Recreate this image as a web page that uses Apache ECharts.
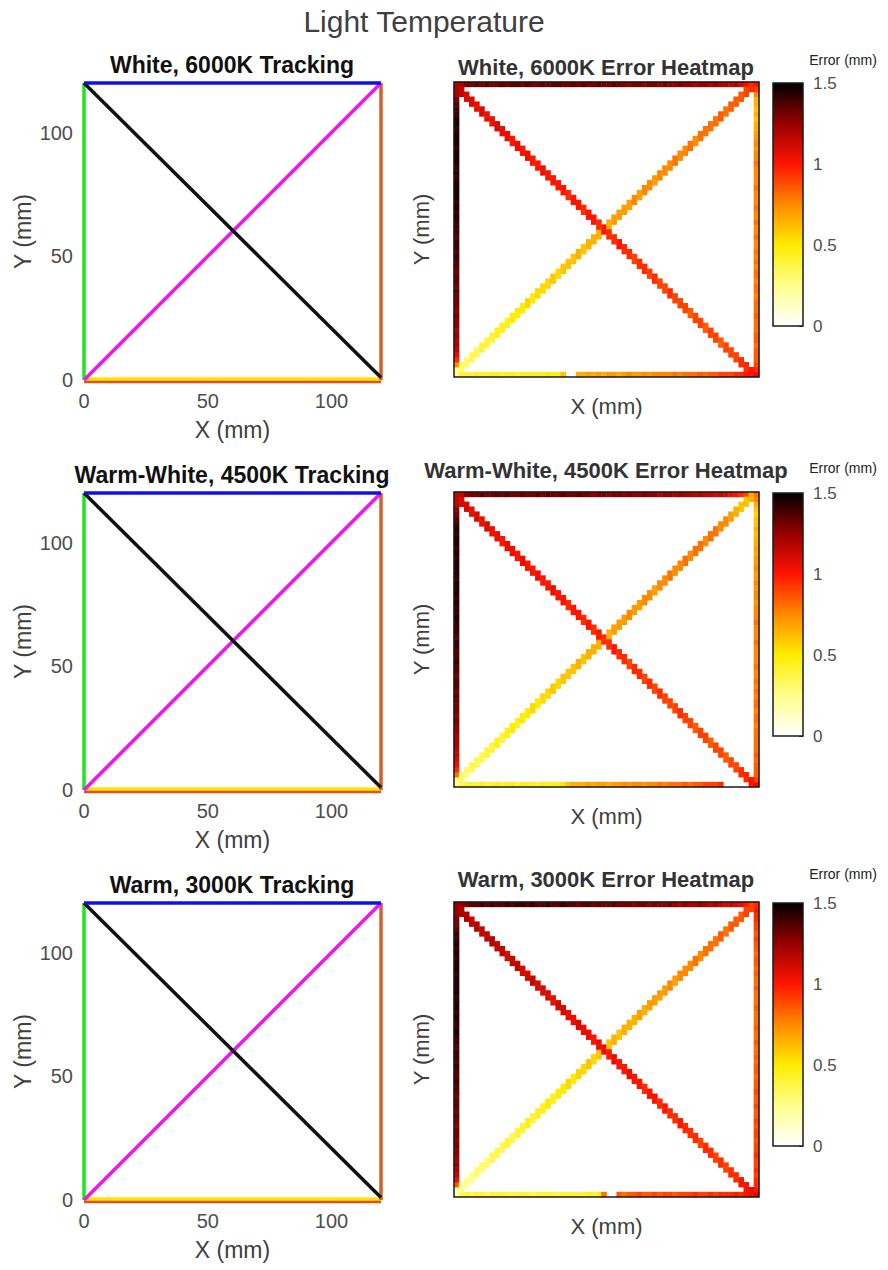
<!DOCTYPE html>
<html><head><meta charset="utf-8">
<script src="https://cdn.jsdelivr.net/npm/echarts@6/dist/echarts.min.js"></script>
<style>html,body{margin:0;padding:0;background:#fff}#c{width:888px;height:1270px}</style>
</head><body><div id="c"></div>
<script>
// ---------------- DATA ----------------
const mainTitle = 'Light Temperature';
const panelNames = ['White, 6000K', 'Warm-White, 4500K', 'Warm, 3000K'];
const trackTicks = [0, 50, 100];
const cbTicks = [0, 0.5, 1, 1.5];
const axisNameX = 'X (mm)';
const axisNameY = 'Y (mm)';
const cbLabel = 'Error (mm)';

// tracked paths [x mm, y mm]
const pathLeft = [[0, 0], [0, 120]];
const pathBottomLow = [[0, -0.6], [120, -0.6]];
const pathBottom = [[0, 0.4], [120, 0.4]];
const pathRight = [[120, 0], [120, 120]];
const pathUp = [[0, 0], [120, 120]];
const pathDown = [[0, 120], [120, 1]];
const pathTop = [[0, 120], [120, 120]];

// heatmap error values (mm), 60 cells (2 mm) along each traced path
const h6000Down = [1.2,1.15,1.1,1.1,1.05,1.1,1.05,1.05,1.1,1.05, 1.05,1.0,1.05,1.0,1.05,1.0,1.0,1.05,1.0,1.0, 1.0,1.0,0.95,1.0,1.0,0.95,1.0,1.0,0.95,1.0, 0.95,0.95,1.0,0.95,0.95,0.9,0.95,0.95,0.9,0.95, 0.9,0.9,0.95,0.9,0.9,0.9,0.85,0.9,0.9,0.85, 0.9,0.9,0.85,0.9,0.9,0.9,0.95,0.95,1.0,1.05];
const h6000Up = [0.25,0.3,0.3,0.35,0.35,0.4,0.4,0.4,0.45,0.45, 0.45,0.5,0.5,0.5,0.55,0.5,0.55,0.55,0.55,0.6, 0.55,0.6,0.6,0.6,0.65,0.6,0.65,0.65,0.65,0.7, 0.65,0.7,0.7,0.7,0.7,0.75,0.7,0.75,0.75,0.7, 0.75,0.75,0.75,0.8,0.75,0.75,0.8,0.75,0.8,0.8, 0.8,0.8,0.85,0.8,0.85,0.85,0.85,0.9,0.95,1.0];
const h6000Bottom = [0.35,0.4,0.4,0.4,0.45,0.4,0.4,0.45,0.45,0.4, 0.45,0.45,0.4,0.45,0.45,0.45,0.45,0.45,0.5,0.45, 0.45,0.6,null,null,0.65,0.65,0.7,0.65,0.7,0.65, 0.7,0.7,0.65,0.7,0.75,0.7,0.7,0.75,0.7,0.75, 0.75,0.75,0.75,0.8,0.75,0.8,0.8,0.8,0.85,0.8, 0.85,0.85,0.9,0.9,0.9,0.95,0.95,1.0,1.05,null];
const h6000Top = [1.1,1.2,1.3,1.3,1.35,1.3,1.35,1.3,1.3,1.35, 1.3,1.35,1.35,1.3,1.35,1.3,1.3,1.35,1.3,1.35, 1.35,1.3,1.3,1.35,1.3,1.35,1.3,1.3,1.35,1.3, 1.3,1.35,1.3,1.3,1.25,1.3,1.3,1.25,1.3,1.3, 1.25,1.3,1.25,1.25,1.3,1.25,1.25,1.2,1.25,1.25, 1.2,1.25,1.2,1.2,1.15,1.2,1.1,1.05,1.0,1.0];
const h6000Left = [0.4,0.5,0.75,0.95,1.05,1.15,1.2,1.2,1.25,1.2, 1.25,1.25,1.3,1.25,1.3,1.3,1.3,1.35,1.3,1.35, 1.35,1.3,1.35,1.35,1.4,1.35,1.4,1.4,1.35,1.4, 1.4,1.4,1.45,1.4,1.45,1.4,1.45,1.45,1.45,1.45, 1.4,1.45,1.4,1.45,1.45,1.45,1.4,1.45,1.45,1.45, 1.4,1.45,1.45,1.4,1.4,1.35,1.3,1.2,1.1,1.05];
const h6000Right = [1.0,0.95,0.9,0.85,0.85,0.85,0.8,0.85,0.85,0.8, 0.8,0.8,0.85,0.8,0.8,0.8,0.75,0.8,0.8,0.75, 0.8,0.8,0.75,0.8,0.75,0.8,0.75,0.75,0.8,0.75, 0.75,0.8,0.75,0.75,0.8,0.75,0.75,0.75,0.8,0.75, 0.75,0.75,0.75,0.8,0.75,0.75,0.7,0.75,0.7,0.7, 0.65,0.65,0.6,0.65,0.6,0.65,0.65,0.75,0.9,1.0];

const h4500Down = [1.15,1.1,1.1,1.05,1.1,1.05,1.1,1.05,1.05,1.0, 1.05,1.05,1.0,1.05,1.0,1.0,1.05,1.0,1.0,1.05, 1.0,1.0,0.95,1.0,1.0,0.95,1.0,0.95,1.0,0.95, 0.95,1.0,0.95,0.95,0.9,0.95,0.95,0.9,0.95,0.9, 0.95,0.9,0.9,0.9,0.95,0.9,0.9,0.85,0.9,0.9, 0.85,0.9,0.9,0.85,0.9,0.9,0.95,0.95,1.0,1.05];
const h4500Up = [0.25,0.3,0.3,0.35,0.35,0.35,0.4,0.4,0.45,0.4, 0.45,0.5,0.45,0.5,0.5,0.55,0.5,0.55,0.55,0.6, 0.55,0.6,0.6,0.6,0.65,0.6,0.65,0.65,0.65,0.7, 0.65,0.7,0.7,0.7,0.75,0.7,0.7,0.75,0.75,0.7, 0.75,0.75,0.8,0.75,0.75,0.8,0.75,0.8,0.8,0.75, 0.8,0.8,0.75,0.75,0.7,0.65,0.6,0.6,0.65,0.8];
const h4500Bottom = [0.35,0.35,0.4,0.4,0.4,0.45,0.4,0.4,0.45,0.4, 0.45,0.45,0.4,0.45,0.45,0.45,0.4,0.45,0.45,0.45, 0.45,0.5,0.6,0.65,0.65,0.65,0.7,0.65,0.7,0.7, 0.65,0.7,0.7,0.75,0.7,0.75,0.75,0.7,0.75,0.75, 0.8,0.75,0.8,0.8,0.8,0.85,0.8,0.85,0.85,0.9, 0.9,0.9,0.95,null,null,null,null,null,null,null];
const h4500Top = [1.05,1.15,1.25,1.3,1.3,1.35,1.3,1.3,1.35,1.3, 1.35,1.3,1.3,1.35,1.3,1.3,1.35,1.3,1.35,1.3, 1.3,1.35,1.3,1.3,1.35,1.3,1.3,1.25,1.3,1.3, 1.25,1.3,1.3,1.25,1.3,1.25,1.25,1.3,1.25,1.25, 1.2,1.25,1.25,1.2,1.25,1.2,1.2,1.15,1.2,1.15, 1.15,1.1,1.15,1.1,1.05,1.0,0.95,0.9,0.85,0.9];
const h4500Left = [0.4,0.55,0.8,0.95,1.05,1.1,1.15,1.15,1.2,1.2, 1.2,1.25,1.25,1.3,1.25,1.3,1.3,1.3,1.35,1.3, 1.35,1.35,1.3,1.35,1.35,1.4,1.35,1.35,1.4,1.4, 1.35,1.4,1.4,1.4,1.45,1.4,1.4,1.45,1.4,1.45, 1.45,1.45,1.4,1.45,1.45,1.45,1.4,1.45,1.4,1.45, 1.45,1.4,1.45,1.4,1.35,1.3,1.25,1.15,1.05,1.0];
const h4500Right = [0.95,0.9,0.85,0.85,0.85,0.8,0.85,0.8,0.8,0.8, 0.8,0.8,0.75,0.8,0.8,0.75,0.8,0.8,0.75,0.8, 0.75,0.8,0.75,0.75,0.8,0.75,0.75,0.75,0.75,0.8, 0.75,0.75,0.75,0.8,0.75,0.75,0.75,0.7,0.75,0.75, 0.7,0.75,0.7,0.7,0.75,0.7,0.7,0.65,0.7,0.65, 0.65,0.6,0.65,0.6,0.6,0.55,0.6,0.65,0.75,0.85];

const h3000Down = [1.25,1.2,1.2,1.15,1.2,1.15,1.15,1.2,1.15,1.15, 1.1,1.15,1.15,1.1,1.1,1.15,1.1,1.1,1.1,1.05, 1.1,1.1,1.05,1.05,1.1,1.05,1.05,1.0,1.05,1.05, 1.0,1.05,1.0,1.0,1.05,1.0,1.0,0.95,1.0,1.0, 0.95,1.0,0.95,0.95,1.0,0.95,0.95,0.95,0.9,0.95, 0.95,0.9,0.95,0.9,0.95,0.95,1.0,1.0,1.05,1.1];
const h3000Up = [0.2,0.2,0.25,0.25,0.3,0.3,0.3,0.35,0.35,0.35, 0.4,0.35,0.4,0.4,0.45,0.4,0.45,0.45,0.5,0.45, 0.5,0.5,0.55,0.5,0.55,0.55,0.6,0.55,0.6,0.6, 0.6,0.65,0.6,0.65,0.65,0.65,0.7,0.65,0.7,0.7, 0.7,0.7,0.75,0.7,0.75,0.75,0.75,0.8,0.75,0.8, 0.8,0.8,0.85,0.8,0.85,0.85,0.85,0.9,0.9,0.95];
const h3000Bottom = [0.35,0.35,0.4,0.35,0.4,0.4,0.35,0.4,0.4,0.4, 0.4,0.35,0.4,0.4,0.4,0.35,0.4,0.4,0.4,0.4, 0.35,0.4,0.4,0.4,0.4,0.4,0.45,0.4,0.45,0.8, null,null,0.85,0.8,0.85,0.85,0.9,0.85,0.85,0.9, 0.85,0.9,0.9,0.85,0.9,0.9,0.9,0.95,0.9,0.9, 0.95,0.9,0.95,0.95,0.95,1.0,0.95,1.0,1.0,1.05];
const h3000Top = [1.15,1.25,1.3,1.35,1.35,1.4,1.35,1.4,1.35,1.35, 1.4,1.35,1.4,1.4,1.35,1.4,1.35,1.35,1.4,1.35, 1.35,1.4,1.35,1.35,1.3,1.35,1.35,1.3,1.35,1.3, 1.3,1.35,1.3,1.3,1.3,1.25,1.3,1.3,1.25,1.3, 1.25,1.25,1.3,1.25,1.2,1.25,1.2,1.2,1.25,1.2, 1.15,1.2,1.15,1.1,1.15,1.1,1.05,1.0,1.0,1.05];
const h3000Left = [0.4,0.6,0.85,1.05,1.15,1.2,1.25,1.2,1.25,1.25, 1.3,1.25,1.3,1.3,1.25,1.3,1.35,1.3,1.35,1.35, 1.3,1.35,1.35,1.4,1.35,1.35,1.4,1.35,1.4,1.4, 1.35,1.4,1.4,1.45,1.4,1.4,1.45,1.4,1.45,1.45, 1.4,1.45,1.45,1.45,1.45,1.4,1.45,1.45,1.4,1.45, 1.4,1.45,1.4,1.4,1.35,1.3,1.3,1.25,1.2,1.15];
const h3000Right = [1.05,1.0,0.95,0.95,0.9,0.95,0.9,0.9,0.95,0.9, 0.9,0.85,0.9,0.9,0.85,0.9,0.85,0.85,0.9,0.85, 0.85,0.9,0.85,0.85,0.8,0.85,0.85,0.8,0.85,0.8, 0.8,0.85,0.8,0.8,0.85,0.8,0.8,0.8,0.85,0.8, 0.8,0.8,0.85,0.8,0.8,0.85,0.8,0.85,0.85,0.8, 0.85,0.85,0.9,0.85,0.9,0.9,0.95,0.95,1.0,1.05];

// ---------------- STYLE / LAYOUT ----------------
const FONT = '"Liberation Sans", Arial, Helvetica, sans-serif';
const CMAP = ['#ffffff', '#ffff8c', '#ffec00', '#ff8a00', '#ff1400', '#980000', '#000000'];
const N = 60;
const cellIdx = Array.from({length: N}, (_, i) => i);
const ROW = 410;
const trackTitleY = [65, 475, 885];
const heatTitleY = [67, 470, 879];
const errLabelY = [60, 468, 874];

const heatSets = [
  [h6000Down, h6000Up, h6000Bottom, h6000Top, h6000Left, h6000Right],
  [h4500Down, h4500Up, h4500Bottom, h4500Top, h4500Left, h4500Right],
  [h3000Down, h3000Up, h3000Bottom, h3000Top, h3000Left, h3000Right]
];

function buildCells(set) {
  const [down, up, bottom, top, left, right] = set;
  const m = new Map();
  const put = (x, y, v) => { if (v == null || y < 0 || y >= N) return; m.set(x + ',' + y, [x, y, v]); };
  bottom.forEach((v, i) => put(i, 0, v));
  top.forEach((v, i) => put(i, N - 1, v));
  left.forEach((v, j) => put(0, j, v));
  right.forEach((v, j) => put(N - 1, j, v));
  up.forEach((v, i) => { put(i, i, v); put(i, i + 1, v); });
  down.forEach((v, i) => { put(i, N - 1 - i, v); put(i, N - 2 - i, v); });
  return Array.from(m.values());
}

const tracks = [
  {data: pathLeft, color: '#1ee61e'},
  {data: pathBottomLow, color: '#e0501a'},
  {data: pathBottom, color: '#ffe600'},
  {data: pathRight, color: '#d2602a'},
  {data: pathUp, color: '#f014f0'},
  {data: pathDown, color: '#111111'},
  {data: pathTop, color: '#1010e6'}
];

const grid = [], xAxis = [], yAxis = [], series = [], graphic = [], heatIdx = [];
const tickFmt = v => (trackTicks.indexOf(v) >= 0 ? String(v) : '');

graphic.push({type: 'text', x: 424, y: 21, style: {text: mainTitle, font: '30px ' + FONT, fill: '#404040', align: 'center', verticalAlign: 'middle'}});

for (let r = 0; r < 3; r++) {
  const off = ROW * r;
  // tracking
  const g0 = grid.length;
  grid.push({left: 84, top: 83 + off, width: 297, height: 297});
  xAxis.push({type: 'value', gridIndex: g0, min: 0, max: 120, interval: 50,
    axisLine: {show: false}, axisTick: {show: false}, splitLine: {show: false},
    axisLabel: {fontSize: 20, color: '#4d4d4d', margin: 11, fontFamily: FONT, formatter: tickFmt},
    name: axisNameX, nameLocation: 'middle', nameGap: 38,
    nameTextStyle: {fontSize: 23, color: '#404040', fontFamily: FONT}});
  yAxis.push({type: 'value', gridIndex: g0, min: 0, max: 120, interval: 50,
    axisLine: {show: false}, axisTick: {show: false}, splitLine: {show: false},
    axisLabel: {fontSize: 20, color: '#4d4d4d', margin: 11, fontFamily: FONT, formatter: tickFmt},
    name: axisNameY, nameLocation: 'middle', nameGap: 50,
    nameTextStyle: {fontSize: 23, color: '#404040', fontFamily: FONT}});
  tracks.forEach(t => series.push({type: 'line', xAxisIndex: g0, yAxisIndex: g0, data: t.data,
    showSymbol: false, clip: false, silent: true, animation: false,
    lineStyle: {color: t.color, width: 3.5}}));

  // heatmap
  const g1 = grid.length;
  grid.push({left: 454, top: 82 + off, width: 305, height: 295, show: true, borderColor: '#1a1a1a', borderWidth: 1.5, z: 5});
  xAxis.push({type: 'category', gridIndex: g1, data: cellIdx,
    axisLine: {show: false}, axisTick: {show: false}, axisLabel: {show: false}, splitLine: {show: false},
    name: axisNameX, nameLocation: 'middle', nameGap: 18,
    nameTextStyle: {fontSize: 22, color: '#404040', fontFamily: FONT}});
  yAxis.push({type: 'category', gridIndex: g1, data: cellIdx,
    axisLine: {show: false}, axisTick: {show: false}, axisLabel: {show: false}, splitLine: {show: false},
    name: axisNameY, nameLocation: 'middle', nameGap: 22,
    nameTextStyle: {fontSize: 22, color: '#404040', fontFamily: FONT}});
  heatIdx.push(series.length);
  series.push({type: 'heatmap', xAxisIndex: g1, yAxisIndex: g1, data: buildCells(heatSets[r]),
    silent: true, animation: false, progressive: 0, itemStyle: {borderWidth: 0}});

  // colorbar
  const g2 = grid.length;
  grid.push({left: 773, top: 83 + off, width: 30, height: 243, show: true, borderColor: '#1a1a1a', borderWidth: 1.5, z: 5});
  xAxis.push({type: 'category', gridIndex: g2, data: ['cb'], show: false});
  yAxis.push({type: 'value', gridIndex: g2, position: 'right', min: cbTicks[0], max: cbTicks[cbTicks.length - 1], interval: 0.5,
    axisLine: {show: false}, splitLine: {show: false},
    axisTick: {show: true, inside: true, length: 4, lineStyle: {color: '#333'}},
    axisLabel: {fontSize: 17, color: '#4d4d4d', margin: 10, fontFamily: FONT}});
  series.push({type: 'bar', xAxisIndex: g2, yAxisIndex: g2, data: [cbTicks[cbTicks.length - 1]],
    barWidth: '100%', silent: true, animation: false,
    itemStyle: {color: {type: 'linear', x: 0, y: 1, x2: 0, y2: 0,
      colorStops: CMAP.map((c, i) => ({offset: i / (CMAP.length - 1), color: c}))}}});

  graphic.push({type: 'text', x: 232, y: trackTitleY[r], style: {text: panelNames[r] + ' Tracking', font: 'bold 23px ' + FONT, fill: '#111', align: 'center', verticalAlign: 'middle'}});
  graphic.push({type: 'text', x: 606, y: heatTitleY[r], style: {text: panelNames[r] + ' Error Heatmap', font: 'bold 22px ' + FONT, fill: '#333', align: 'center', verticalAlign: 'middle'}});
  graphic.push({type: 'text', x: 843, y: errLabelY[r], style: {text: cbLabel, font: '14px ' + FONT, fill: '#222', align: 'center', verticalAlign: 'middle'}});
}

const chart = echarts.init(document.getElementById('c'), null, {renderer: 'svg'});
chart.setOption({
  animation: false,
  backgroundColor: '#ffffff',
  grid, xAxis, yAxis, series, graphic,
  visualMap: [{type: 'continuous', show: false, min: 0, max: 1.5, dimension: 2, seriesIndex: heatIdx, inRange: {color: CMAP}}]
});
</script>
</body></html>
